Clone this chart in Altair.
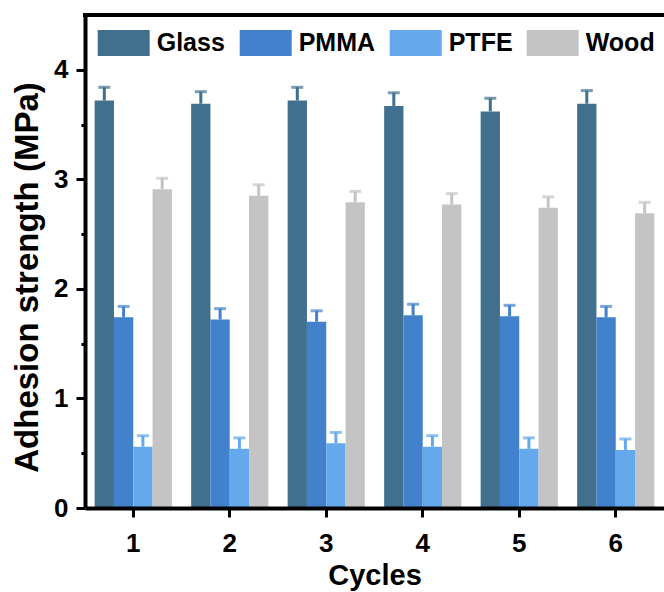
import altair as alt
import pandas as pd

cycles = ["1", "2", "3", "4", "5", "6"]
materials = ["Glass", "PMMA", "PTFE", "Wood"]
colors = ["#41708F", "#4282CD", "#63A9EB", "#C4C4C4"]

glass = [3.72, 3.69, 3.72, 3.67, 3.62, 3.69]
glass_err = [0.12, 0.11, 0.12, 0.12, 0.12, 0.12]
pmma = [1.74, 1.72, 1.70, 1.76, 1.75, 1.74]
pmma_err = [0.10, 0.10, 0.10, 0.10, 0.10, 0.10]
ptfe = [0.56, 0.54, 0.59, 0.56, 0.54, 0.53]
ptfe_err = [0.10, 0.10, 0.10, 0.10, 0.10, 0.10]
wood = [2.91, 2.85, 2.79, 2.77, 2.74, 2.69]
wood_err = [0.10, 0.10, 0.10, 0.10, 0.10, 0.10]

series = {
    "Glass": (glass, glass_err),
    "PMMA": (pmma, pmma_err),
    "PTFE": (ptfe, ptfe_err),
    "Wood": (wood, wood_err),
}
rows = []
for m in materials:
    vals, errs = series[m]
    for c, v, e in zip(cycles, vals, errs):
        rows.append({"Cycle": c, "Material": m, "Value": v, "Upper": round(v + e, 3)})
df = pd.DataFrame(rows)

W, H = 579, 493
FONT = "Liberation Sans"

x_enc = alt.X(
    "Cycle:N",
    sort=cycles,
    title="Cycles",
    scale=alt.Scale(paddingInner=0.2, paddingOuter=0.1),
    axis=alt.Axis(
        labelAngle=0,
        labelFontSize=26,
        labelFontWeight="bold",
        labelFont=FONT,
        labelColor="black",
        labelPadding=13,
        tickSize=9,
        tickWidth=3,
        tickColor="black",
        domainColor="black",
        domainWidth=4,
        titleFontSize=29,
        titleFont=FONT,
        titleFontWeight="bold",
        titleColor="black",
        titlePadding=5,
        zindex=1,
    ),
)
xo_enc = alt.XOffset("Material:N", sort=materials, scale=alt.Scale(paddingInner=0, paddingOuter=0))
color_enc = alt.Color(
    "Material:N",
    sort=materials,
    scale=alt.Scale(domain=materials, range=colors),
    legend=alt.Legend(
        title=None,
        orient="none",
        legendX=12.7,
        legendY=2,
        direction="horizontal",
        columns=4,
        symbolType="M-1,-0.5H1V0.5H-1Z",
        symbolSize=2704,
        symbolStrokeWidth=0,
        symbolOpacity=1,
        labelFontSize=25,
        labelFont=FONT,
        labelFontWeight="bold",
        labelColor="black",
        labelOffset=7,
        columnPadding=14,
        padding=0,
    ),
)
y_enc = alt.Y(
    "Value:Q",
    title="Adhesion strength (MPa)",
    scale=alt.Scale(domain=[0, 4.5], nice=False, zero=True),
    axis=alt.Axis(
        values=[0, 0.5, 1, 1.5, 2, 2.5, 3, 3.5, 4],
        format=".0f",
        labelExpr="datum.value % 1 === 0 ? format(datum.value, 'd') : ''",
        grid=False,
        labelFontSize=26,
        labelFontWeight="bold",
        labelFont=FONT,
        labelColor="black",
        labelPadding=8,
        tickSize={"condition": {"test": "datum.value % 1 === 0", "value": 9}, "value": 4},
        tickWidth=3,
        tickColor="black",
        domainColor="black",
        domainWidth=4,
        titleFontSize=33,
        titleFont=FONT,
        titleFontWeight="bold",
        titleColor="black",
        titleBaseline="alphabetic",
        titleAngle=270,
        titleX=-48,
        titleY=262,
        zindex=1,
    ),
)

base = alt.Chart(df)
bars = base.mark_bar(strokeWidth=0).encode(x=x_enc, xOffset=xo_enc, y=y_enc, color=color_enc)
err = base.mark_rule(strokeWidth=3).encode(
    x=alt.X("Cycle:N", sort=cycles),
    xOffset=xo_enc,
    y=alt.Y("Value:Q"),
    y2="Upper:Q",
    color=alt.Color("Material:N", sort=materials, legend=None),
)
caps = base.mark_tick(thickness=3, size=12).encode(
    x=alt.X("Cycle:N", sort=cycles),
    xOffset=xo_enc,
    y=alt.Y("Upper:Q"),
    color=alt.Color("Material:N", sort=materials, legend=None),
)
top = alt.Chart(pd.DataFrame({"k": [0]})).mark_rule(color="black", strokeWidth=4).encode(
    x=alt.value(-2), x2=alt.value(W), y=alt.value(0)
)

chart = (
    alt.layer(bars, err, caps, top)
    .properties(
        width=W,
        height=H,
        autosize=alt.AutoSizeParams(type="none"),
        padding={"left": 85, "top": 15, "right": 0, "bottom": 84},
        background="white",
    )
    .configure_view(stroke=None)
)

chart.save("out.html", embed_options={"renderer": "svg", "actions": False})
